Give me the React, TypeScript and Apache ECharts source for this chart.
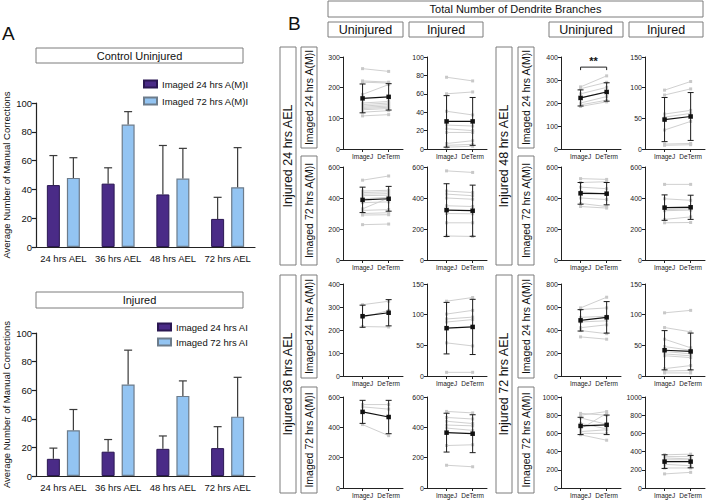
import React, { useEffect, useRef } from 'react';
import * as echarts from 'echarts';

const FONT = '"Liberation Sans", Arial, Helvetica, sans-serif';

// ---------------- Panel A data ----------------
const aCategories = ['24 hrs AEL', '36 hrs AEL', '48 hrs AEL', '72 hrs AEL'];
const aYMax = 100;
const aYInterval = 20;
const ctrlSeriesNames = ['Imaged 24 hrs A(M)I', 'Imaged 72 hrs A(M)I'];
const injSeriesNames = ['Imaged 24 hrs AI', 'Imaged 72 hrs AI'];
const ctrl24Mean = [43, 44, 36.5, 19.5];
const ctrl24SD = [20.5, 11, 34, 15];
const ctrl72Mean = [48, 85, 47.5, 41.5];
const ctrl72SD = [14, 9, 21, 27.5];
const inj24Mean = [12, 17, 19, 19.5];
const inj24SD = [7.5, 8.5, 9, 15];
const inj72Mean = [32, 64, 56, 41.5];
const inj72SD = [14.5, 24, 10.5, 27.5];

// ---------------- Panel B data ----------------
const bMethods = ['ImageJ', 'DeTerm'];

// Injured 24 hrs AEL
const i24_im24_uninj_imagej = [262, 222, 218, 178, 150, 145, 140, 136, 132, 128, 120, 108];
const i24_im24_uninj_determ = [253, 218, 215, 210, 155, 150, 145, 140, 136, 132, 125, 112];
const i24_im24_uninj_mean = [165, 170];
const i24_im24_uninj_sd = [47, 43];
const i24_im24_inj_imagej = [78, 60, 41, 26, 22, 18, 6, 4, 2];
const i24_im24_inj_determ = [74, 62, 37, 25, 20, 18, 9, 5, 3];
const i24_im24_inj_mean = [30, 30];
const i24_im24_inj_sd = [28, 26];
const i24_im72_uninj_imagej = [515, 445, 435, 425, 415, 395, 370, 330, 320, 300, 290, 228];
const i24_im72_uninj_determ = [542, 450, 440, 428, 418, 405, 375, 400, 325, 305, 292, 232];
const i24_im72_uninj_mean = [388, 395];
const i24_im72_uninj_sd = [82, 80];
const i24_im72_inj_imagej = [575, 445, 425, 400, 350, 300, 240, 155];
const i24_im72_inj_determ = [565, 435, 415, 392, 345, 298, 240, 152];
const i24_im72_inj_mean = [322, 318];
const i24_im72_inj_sd = [170, 165];

// Injured 36 hrs AEL
const i36_im24_uninj_imagej = [310, 255, 215];
const i36_im24_uninj_determ = [325, 285, 213];
const i36_im24_uninj_mean = [260, 275];
const i36_im24_uninj_sd = [48, 57];
const i36_im24_inj_imagej = [122, 101, 93, 88, 54, 6];
const i36_im24_inj_determ = [128, 107, 96, 92, 49, 6];
const i36_im24_inj_mean = [78, 80];
const i36_im24_inj_sd = [42, 45];
const i36_im72_uninj_imagej = [550, 535, 418];
const i36_im72_uninj_determ = [550, 520, 345];
const i36_im72_uninj_mean = [502, 468];
const i36_im72_uninj_sd = [76, 110];
const i36_im72_inj_imagej = [505, 465, 440, 415, 395, 280, 150];
const i36_im72_inj_determ = [495, 455, 425, 410, 380, 285, 140];
const i36_im72_inj_mean = [365, 358];
const i36_im72_inj_sd = [128, 125];

// Injured 48 hrs AEL
const i48_im24_uninj_imagej = [270, 262, 240, 222, 200, 192, 185];
const i48_im24_uninj_determ = [318, 290, 268, 250, 228, 212, 205];
const i48_im24_uninj_mean = [222, 248];
const i48_im24_uninj_sd = [35, 40];
const i48_im24_inj_imagej = [96, 88, 57, 52, 31, 8, 6];
const i48_im24_inj_determ = [110, 98, 63, 58, 45, 9, 7];
const i48_im24_inj_mean = [48, 53];
const i48_im24_inj_sd = [36, 39];
const i48_im72_uninj_imagej = [525, 500, 470, 440, 400, 365, 345];
const i48_im72_uninj_determ = [520, 505, 460, 425, 390, 345, 335];
const i48_im72_uninj_mean = [430, 428];
const i48_im72_uninj_sd = [70, 72];
const i48_im72_inj_imagej = [488, 395, 338, 325, 318, 262, 240];
const i48_im72_inj_determ = [488, 385, 345, 330, 322, 278, 242];
const i48_im72_inj_mean = [338, 340];
const i48_im72_inj_sd = [82, 78];

// Injured 72 hrs AEL
const i72_im24_uninj_imagej = [592, 578, 510, 470, 420, 395, 340];
const i72_im24_uninj_determ = [685, 592, 520, 480, 445, 368, 320];
const i72_im24_uninj_mean = [484, 510];
const i72_im24_uninj_sd = [93, 137];
const i72_im24_inj_imagej = [103, 79, 60, 48, 40, 36, 33, 12, 8, 5];
const i72_im24_inj_determ = [107, 72, 46, 42, 36, 33, 30, 17, 9, 5];
const i72_im24_inj_mean = [42, 40];
const i72_im24_inj_sd = [32, 30];
const i72_im72_uninj_imagej = [820, 800, 770, 710, 650, 620, 600, 585];
const i72_im72_uninj_determ = [800, 840, 700, 650, 820, 640, 600, 525];
const i72_im72_uninj_mean = [682, 694];
const i72_im72_uninj_sd = [95, 107];
const i72_im72_inj_imagej = [365, 345, 330, 310, 290, 260, 220, 155];
const i72_im72_inj_determ = [372, 345, 320, 310, 290, 245, 220, 172];
const i72_im72_inj_mean = [290, 290];
const i72_im72_inj_sd = [75, 68];

// y-axis ranges (max, interval) for each small chart
const yMax = [300, 100, 600, 600, 400, 150, 600, 600, 400, 150, 600, 600, 800, 150, 1000, 1000];
const yInterval = [100, 20, 200, 200, 100, 50, 200, 200, 100, 50, 200, 200, 200, 50, 200, 200];

// significance annotation (Injured 48 hrs AEL, Imaged 24 hrs, Uninjured)
const sigLabel = '**';
const sigBracketValue = 356;

// ---------------- layout (positions / styles only) ----------------
const colX = [343, 427, 561, 645];
const rowTop = [57, 167, 284, 397];
const rowH = [92, 93, 92, 91];
const B_W = 60;

const bPanels = [
  { imagej: i24_im24_uninj_imagej, determ: i24_im24_uninj_determ, mean: i24_im24_uninj_mean, sd: i24_im24_uninj_sd, col: 0, row: 0 },
  { imagej: i24_im24_inj_imagej, determ: i24_im24_inj_determ, mean: i24_im24_inj_mean, sd: i24_im24_inj_sd, col: 1, row: 0 },
  { imagej: i24_im72_uninj_imagej, determ: i24_im72_uninj_determ, mean: i24_im72_uninj_mean, sd: i24_im72_uninj_sd, col: 0, row: 1 },
  { imagej: i24_im72_inj_imagej, determ: i24_im72_inj_determ, mean: i24_im72_inj_mean, sd: i24_im72_inj_sd, col: 1, row: 1 },
  { imagej: i36_im24_uninj_imagej, determ: i36_im24_uninj_determ, mean: i36_im24_uninj_mean, sd: i36_im24_uninj_sd, col: 0, row: 2 },
  { imagej: i36_im24_inj_imagej, determ: i36_im24_inj_determ, mean: i36_im24_inj_mean, sd: i36_im24_inj_sd, col: 1, row: 2 },
  { imagej: i36_im72_uninj_imagej, determ: i36_im72_uninj_determ, mean: i36_im72_uninj_mean, sd: i36_im72_uninj_sd, col: 0, row: 3 },
  { imagej: i36_im72_inj_imagej, determ: i36_im72_inj_determ, mean: i36_im72_inj_mean, sd: i36_im72_inj_sd, col: 1, row: 3 },
  { imagej: i48_im24_uninj_imagej, determ: i48_im24_uninj_determ, mean: i48_im24_uninj_mean, sd: i48_im24_uninj_sd, col: 2, row: 0, sig: true },
  { imagej: i48_im24_inj_imagej, determ: i48_im24_inj_determ, mean: i48_im24_inj_mean, sd: i48_im24_inj_sd, col: 3, row: 0 },
  { imagej: i48_im72_uninj_imagej, determ: i48_im72_uninj_determ, mean: i48_im72_uninj_mean, sd: i48_im72_uninj_sd, col: 2, row: 1 },
  { imagej: i48_im72_inj_imagej, determ: i48_im72_inj_determ, mean: i48_im72_inj_mean, sd: i48_im72_inj_sd, col: 3, row: 1 },
  { imagej: i72_im24_uninj_imagej, determ: i72_im24_uninj_determ, mean: i72_im24_uninj_mean, sd: i72_im24_uninj_sd, col: 2, row: 2 },
  { imagej: i72_im24_inj_imagej, determ: i72_im24_inj_determ, mean: i72_im24_inj_mean, sd: i72_im24_inj_sd, col: 3, row: 2 },
  { imagej: i72_im72_uninj_imagej, determ: i72_im72_uninj_determ, mean: i72_im72_uninj_mean, sd: i72_im72_uninj_sd, col: 2, row: 3 },
  { imagej: i72_im72_inj_imagej, determ: i72_im72_inj_determ, mean: i72_im72_inj_mean, sd: i72_im72_inj_sd, col: 3, row: 3 },
];

const DARK = '#4a2b87';
const LIGHT = '#93c4f2';
const AXIS = '#222';

function aErrRender(offset: number) {
  return (params: any, api: any) => {
    const x = api.value(0);
    const m = api.value(1);
    const s = api.value(2);
    const base = api.coord([x, m]);
    const top = api.coord([x, m + s]);
    const cx = base[0] + offset;
    const st = { stroke: '#3a3a3a', lineWidth: 1.2 };
    return {
      type: 'group',
      children: [
        { type: 'line', shape: { x1: cx, y1: base[1], x2: cx, y2: top[1] }, style: st },
        { type: 'line', shape: { x1: cx - 4, y1: top[1], x2: cx + 4, y2: top[1] }, style: st },
      ],
    };
  };
}

function bErrRender(params: any, api: any) {
  const x = api.value(0);
  const m = api.value(1);
  const s = api.value(2);
  const hi = api.coord([x, m + s]);
  const lo = api.coord([x, m - s]);
  const cx = hi[0];
  const st = { stroke: '#1a1a1a', lineWidth: 1 };
  return {
    type: 'group',
    children: [
      { type: 'line', shape: { x1: cx, y1: lo[1], x2: cx, y2: hi[1] }, style: st },
      { type: 'line', shape: { x1: cx - 3, y1: hi[1], x2: cx + 3, y2: hi[1] }, style: st },
      { type: 'line', shape: { x1: cx - 3, y1: lo[1], x2: cx + 3, y2: lo[1] }, style: st },
    ],
  };
}

function sigRender(params: any, api: any) {
  const x0 = api.value(0);
  const x1 = api.value(1);
  const y = api.value(2);
  const p0 = api.coord([x0, y]);
  const p1 = api.coord([x1, y]);
  return {
    type: 'group',
    children: [
      {
        type: 'polyline',
        shape: { points: [[p0[0], p0[1] + 3], [p0[0], p0[1]], [p1[0], p1[1]], [p1[0], p1[1] + 3]] },
        style: { stroke: '#222', lineWidth: 1, fill: 'none' },
      },
      {
        type: 'text',
        style: {
          text: sigLabel,
          x: (p0[0] + p1[0]) / 2,
          y: p0[1] - 1,
          align: 'center',
          verticalAlign: 'bottom',
          textAlign: 'center',
          textVerticalAlign: 'bottom',
          fontSize: 11,
          fontWeight: 'bold',
          fontFamily: FONT,
          fill: '#111',
        },
      },
    ],
  };
}

function boxEls(x: number, y: number, w: number, h: number, text: string, fontSize: number, vertical = false) {
  const t: any = {
    type: 'text',
    x: x + w / 2,
    y: y + h / 2,
    silent: true,
    style: {
      text,
      x: 0,
      y: 0,
      align: 'center',
      verticalAlign: 'middle',
      textAlign: 'center',
      textVerticalAlign: 'middle',
      fontSize,
      fontFamily: FONT,
      fill: '#111',
    },
  };
  if (vertical) t.rotation = Math.PI / 2;
  return [
    {
      type: 'rect',
      silent: true,
      shape: { x, y, width: w, height: h },
      style: { fill: '#fff', stroke: '#7d7d7d', lineWidth: 1 },
    },
    t,
  ];
}

function buildOption() {
  const grid: any[] = [];
  const xAxis: any[] = [];
  const yAxis: any[] = [];
  const series: any[] = [];

  // ---- Panel A ----
  const aGrids = [
    { top: 103, height: 144, names: ctrlSeriesNames, m24: ctrl24Mean, s24: ctrl24SD, m72: ctrl72Mean, s72: ctrl72SD },
    { top: 333, height: 143, names: injSeriesNames, m24: inj24Mean, s24: inj24SD, m72: inj72Mean, s72: inj72SD },
  ];
  aGrids.forEach((g, gi) => {
    grid.push({ left: 33, top: g.top, width: 222, height: g.height });
    xAxis.push({
      gridIndex: gi,
      type: 'category',
      data: aCategories,
      axisLine: { lineStyle: { color: AXIS, width: 1.2 } },
      axisTick: { alignWithLabel: true, length: 4, lineStyle: { color: AXIS, width: 1.2 } },
      axisLabel: { fontSize: 9.5, color: '#111', margin: 6, interval: 0, fontFamily: FONT },
    });
    yAxis.push({
      gridIndex: gi,
      type: 'value',
      min: 0,
      max: aYMax,
      interval: aYInterval,
      axisLine: { show: true, lineStyle: { color: AXIS, width: 1.2 } },
      axisTick: { show: true, length: 4, lineStyle: { color: AXIS, width: 1.2 } },
      axisLabel: { fontSize: 9.5, color: '#111', margin: 4, fontFamily: FONT },
      splitLine: { show: false },
      name: 'Average Number of Manual Corrections',
      nameLocation: 'middle',
      nameGap: 25,
      nameTextStyle: { fontSize: 9.5, color: '#111', fontFamily: FONT },
    });
    series.push({
      type: 'bar',
      name: g.names[0],
      xAxisIndex: gi,
      yAxisIndex: gi,
      data: g.m24,
      barWidth: 13,
      barGap: '54%',
      itemStyle: { color: DARK, borderColor: '#2a1752', borderWidth: 1 },
      silent: true,
    });
    series.push({
      type: 'bar',
      name: g.names[1],
      xAxisIndex: gi,
      yAxisIndex: gi,
      data: g.m72,
      barWidth: 13,
      barGap: '54%',
      itemStyle: { color: LIGHT, borderColor: '#6d7c8b', borderWidth: 1.2 },
      silent: true,
    });
    series.push({
      type: 'custom',
      xAxisIndex: gi,
      yAxisIndex: gi,
      renderItem: aErrRender(-10),
      data: g.m24.map((m, i) => [i, m, g.s24[i]]),
      encode: { x: 0, y: 1 },
      z: 5,
      silent: true,
    });
    series.push({
      type: 'custom',
      xAxisIndex: gi,
      yAxisIndex: gi,
      renderItem: aErrRender(10),
      data: g.m72.map((m, i) => [i, m, g.s72[i]]),
      encode: { x: 0, y: 1 },
      z: 5,
      silent: true,
    });
  });

  // ---- Panel B ----
  bPanels.forEach((p, k) => {
    const gi = k + 2;
    grid.push({ left: colX[p.col], top: rowTop[p.row], width: B_W, height: rowH[p.row] });
    xAxis.push({
      gridIndex: gi,
      type: 'value',
      min: -0.75,
      max: 1.55,
      axisLine: { show: true, onZero: false, lineStyle: { color: AXIS, width: 1 } },
      axisTick: { show: true, customValues: [0, 1], length: 3, lineStyle: { color: AXIS, width: 1 } },
      axisLabel: {
        show: true,
        customValues: [0, 1],
        formatter: (v: number) => bMethods[Math.round(v)] || '',
        fontSize: 6.5,
        color: '#222',
        margin: 4,
        fontFamily: FONT,
      },
      splitLine: { show: false },
    });
    yAxis.push({
      gridIndex: gi,
      type: 'value',
      min: 0,
      max: yMax[k],
      interval: yInterval[k],
      axisLine: { show: true, onZero: false, lineStyle: { color: AXIS, width: 1 } },
      axisTick: { show: true, length: 3, lineStyle: { color: AXIS, width: 1 } },
      axisLabel: { fontSize: 7, color: '#222', margin: 3, fontFamily: FONT, formatter: (v: number) => String(v) },
      splitLine: { show: false },
    });
    p.imagej.forEach((v, i) => {
      series.push({
        type: 'line',
        xAxisIndex: gi,
        yAxisIndex: gi,
        data: [
          [0, v],
          [1, p.determ[i]],
        ],
        symbol: 'rect',
        symbolSize: 3,
        lineStyle: { color: '#d0d0d0', width: 1 },
        itemStyle: { color: '#c8c8c8' },
        z: 2,
        silent: true,
      });
    });
    series.push({
      type: 'custom',
      xAxisIndex: gi,
      yAxisIndex: gi,
      renderItem: bErrRender,
      data: p.mean.map((m, i) => [i, m, p.sd[i]]),
      encode: { x: 0, y: 1 },
      z: 4,
      silent: true,
    });
    series.push({
      type: 'line',
      xAxisIndex: gi,
      yAxisIndex: gi,
      data: p.mean.map((m, i) => [i, m]),
      symbol: 'rect',
      symbolSize: 4.5,
      lineStyle: { color: '#111', width: 1.2 },
      itemStyle: { color: '#111' },
      z: 5,
      silent: true,
    });
    if ((p as any).sig) {
      series.push({
        type: 'custom',
        xAxisIndex: gi,
        yAxisIndex: gi,
        renderItem: sigRender,
        data: [[0, 1, sigBracketValue]],
        encode: { x: 0, y: 2 },
        z: 6,
        silent: true,
      });
    }
  });

  // ---- graphics: panel letters and label boxes ----
  const graphic: any[] = [];
  graphic.push({
    type: 'text',
    x: 2,
    y: 24,
    silent: true,
    style: { text: 'A', fontSize: 19, fontFamily: FONT, fill: '#111', verticalAlign: 'top', textVerticalAlign: 'top' },
  });
  graphic.push({
    type: 'text',
    x: 288,
    y: 14,
    silent: true,
    style: { text: 'B', fontSize: 19, fontFamily: FONT, fill: '#111', verticalAlign: 'top', textVerticalAlign: 'top' },
  });
  graphic.push(...boxEls(36, 48, 207, 15, 'Control Uninjured', 11));
  graphic.push(...boxEls(36, 292, 207, 16, 'Injured', 11));
  graphic.push(...boxEls(328, 1, 375, 16, 'Total Number of Dendrite Branches', 11));
  graphic.push(...boxEls(328, 22, 75, 15, 'Uninjured', 12.5));
  graphic.push(...boxEls(409, 22, 74, 15, 'Injured', 12.5));
  graphic.push(...boxEls(549, 22, 74, 15, 'Uninjured', 12.5));
  graphic.push(...boxEls(629, 22, 74, 15, 'Injured', 12.5));

  const bigX = [280, 496];
  const smallX = [301, 518];
  const bigY = [
    [47, 265],
    [275, 493],
  ];
  const smallY = [
    [47, 148],
    [156, 265],
    [275, 378],
    [387, 493],
  ];
  const bigLabels = [
    ['Injured 24 hrs AEL', 'Injured 36 hrs AEL'],
    ['Injured 48 hrs AEL', 'Injured 72 hrs AEL'],
  ];
  const smallLabels = ['Imaged 24 hrs A(M)I', 'Imaged 72 hrs A(M)I', 'Imaged 24 hrs A(M)I', 'Imaged 72 hrs A(M)I'];
  for (let g = 0; g < 2; g++) {
    bigY.forEach((yy, j) => {
      graphic.push(...boxEls(bigX[g], yy[0], 16, yy[1] - yy[0], bigLabels[g][j], 12.5, true));
    });
    smallY.forEach((yy, j) => {
      graphic.push(...boxEls(smallX[g], yy[0], 16, yy[1] - yy[0], smallLabels[j], 10.5, true));
    });
  }

  return {
    animation: false,
    textStyle: { fontFamily: FONT },
    grid,
    xAxis,
    yAxis,
    series,
    legend: [
      {
        data: ctrlSeriesNames,
        orient: 'vertical',
        left: 138,
        top: 74,
        itemWidth: 13,
        itemHeight: 7,
        itemGap: 7,
        icon: 'rect',
        selectedMode: false,
        textStyle: { fontSize: 9.5, color: '#111', fontFamily: FONT },
      },
      {
        data: injSeriesNames,
        orient: 'vertical',
        left: 152,
        top: 317,
        itemWidth: 13,
        itemHeight: 7,
        itemGap: 5,
        icon: 'rect',
        selectedMode: false,
        textStyle: { fontSize: 9.5, color: '#111', fontFamily: FONT },
      },
    ],
    graphic,
  };
}

export default function App() {
  const ref = useRef<HTMLDivElement>(null);
  useEffect(() => {
    document.body.style.margin = '0';
    const chart = echarts.init(ref.current!, undefined, { renderer: 'svg' });
    chart.setOption(buildOption() as any);
    return () => chart.dispose();
  }, []);
  return <div ref={ref} style={{ width: 708, height: 500 }} />;
}
